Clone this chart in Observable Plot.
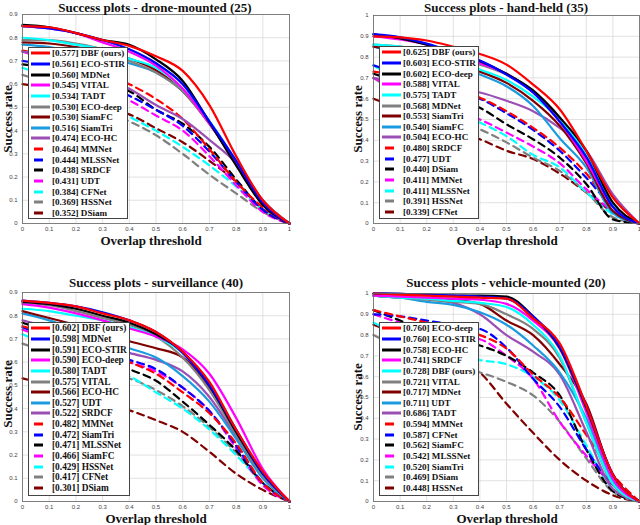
<!DOCTYPE html>
<html><head><meta charset="utf-8">
<script src="https://cdn.jsdelivr.net/npm/d3@7"></script>
<script src="https://cdn.jsdelivr.net/npm/@observablehq/plot@0.6"></script>
<style>
body{margin:0;background:#fff;}
#root{position:relative;width:640px;height:525px;overflow:hidden;font-family:"Liberation Serif","Times New Roman",serif;color:#111;}
.panel{position:absolute;}
.txt{position:absolute;white-space:nowrap;font-weight:bold;transform:translate(-50%,-50%);line-height:1;}
.ylab{transform:translate(-50%,-50%) rotate(-90deg);}
.legend{position:absolute;background:#fff;border:1px solid #444;box-sizing:border-box;padding-top:0.5px;overflow:hidden;}
.row{display:flex;align-items:center;height:10.65px;font-weight:bold;white-space:nowrap;}
.row svg{flex:none;}
.measure{position:absolute;visibility:hidden;white-space:nowrap;font-weight:bold;font-size:10px;}
</style></head><body><div id="root"></div>
<script>
// ---------- data ----------
const thresholds = [0, 0.1, 0.2, 0.3, 0.4, 0.5, 0.6, 0.7, 0.8, 0.9, 1];
const xTicks = [0, 0.1, 0.2, 0.3, 0.4, 0.5, 0.6, 0.7, 0.8, 0.9, 1];
const yTicks09 = [0, 0.1, 0.2, 0.3, 0.4, 0.5, 0.6, 0.7, 0.8, 0.9];
const yTicks10 = [0, 0.1, 0.2, 0.3, 0.4, 0.5, 0.6, 0.7, 0.8, 0.9, 1];
const xLabel = "Overlap threshold";
const yLabel = "Success rate";

const droneTitle = "Success plots - drone-mounted (25)";
const droneNames = ["DBF (ours)", "ECO-STIR", "MDNet", "VITAL", "TADT", "ECO-deep", "SiamFC", "SiamTri", "ECO-HC", "MMNet", "MLSSNet", "SRDCF", "UDT", "CFNet", "HSSNet", "DSiam"];
const droneScores = ["0.577", "0.561", "0.560", "0.545", "0.534", "0.530", "0.530", "0.516", "0.474", "0.464", "0.444", "0.438", "0.431", "0.384", "0.369", "0.352"];
const droneValues = [
  [0.85, 0.845, 0.82, 0.79, 0.765, 0.72, 0.657, 0.51, 0.29, 0.10, 0],
  [0.85, 0.84, 0.82, 0.79, 0.75, 0.69, 0.60, 0.44, 0.27, 0.09, 0],
  [0.855, 0.845, 0.82, 0.79, 0.77, 0.707, 0.614, 0.436, 0.25, 0.08, 0],
  [0.85, 0.84, 0.82, 0.78, 0.74, 0.68, 0.58, 0.43, 0.26, 0.08, 0],
  [0.80, 0.79, 0.77, 0.75, 0.71, 0.67, 0.58, 0.44, 0.26, 0.09, 0],
  [0.79, 0.79, 0.775, 0.75, 0.70, 0.65, 0.57, 0.43, 0.27, 0.10, 0],
  [0.78, 0.775, 0.76, 0.74, 0.71, 0.66, 0.57, 0.43, 0.26, 0.09, 0],
  [0.77, 0.76, 0.74, 0.72, 0.69, 0.65, 0.57, 0.44, 0.27, 0.09, 0],
  [0.74, 0.72, 0.68, 0.63, 0.58, 0.51, 0.45, 0.36, 0.26, 0.10, 0],
  [0.745, 0.72, 0.69, 0.65, 0.60, 0.536, 0.45, 0.32, 0.18, 0.07, 0],
  [0.70, 0.68, 0.65, 0.60, 0.55, 0.49, 0.42, 0.31, 0.18, 0.06, 0],
  [0.685, 0.67, 0.64, 0.60, 0.57, 0.49, 0.43, 0.33, 0.19, 0.06, 0],
  [0.74, 0.70, 0.64, 0.58, 0.53, 0.465, 0.40, 0.29, 0.165, 0.05, 0],
  [0.67, 0.63, 0.58, 0.52, 0.46, 0.40, 0.33, 0.25, 0.16, 0.06, 0],
  [0.64, 0.60, 0.55, 0.49, 0.44, 0.38, 0.30, 0.21, 0.13, 0.05, 0],
  [0.60, 0.58, 0.54, 0.50, 0.47, 0.41, 0.35, 0.27, 0.18, 0.06, 0]
];

const handTitle = "Success plots - hand-held (35)";
const handNames = ["DBF (ours)", "ECO-STIR", "ECO-deep", "VITAL", "TADT", "MDNet", "SiamTri", "SiamFC", "ECO-HC", "SRDCF", "UDT", "DSiam", "MMNet", "MLSSNet", "HSSNet", "CFNet"];
const handScores = ["0.625", "0.603", "0.602", "0.588", "0.575", "0.568", "0.553", "0.540", "0.504", "0.480", "0.477", "0.440", "0.411", "0.411", "0.391", "0.339"];
const handValues = [
  [0.90, 0.895, 0.88, 0.85, 0.815, 0.764, 0.668, 0.549, 0.349, 0.125, 0],
  [0.91, 0.895, 0.865, 0.825, 0.783, 0.716, 0.63, 0.49, 0.32, 0.08, 0],
  [0.91, 0.89, 0.86, 0.82, 0.78, 0.72, 0.64, 0.51, 0.35, 0.10, 0],
  [0.90, 0.885, 0.86, 0.82, 0.77, 0.72, 0.63, 0.49, 0.30, 0.08, 0],
  [0.86, 0.85, 0.83, 0.79, 0.74, 0.69, 0.61, 0.50, 0.33, 0.09, 0],
  [0.86, 0.85, 0.83, 0.80, 0.764, 0.716, 0.636, 0.51, 0.31, 0.08, 0],
  [0.85, 0.83, 0.80, 0.77, 0.73, 0.676, 0.59, 0.47, 0.29, 0.06, 0],
  [0.85, 0.82, 0.79, 0.76, 0.716, 0.66, 0.565, 0.41, 0.27, 0.05, 0],
  [0.70, 0.68, 0.67, 0.65, 0.63, 0.59, 0.54, 0.46, 0.35, 0.14, 0],
  [0.73, 0.71, 0.68, 0.645, 0.605, 0.54, 0.46, 0.365, 0.24, 0.08, 0],
  [0.76, 0.72, 0.68, 0.64, 0.60, 0.53, 0.45, 0.35, 0.22, 0.08, 0],
  [0.72, 0.68, 0.64, 0.60, 0.556, 0.477, 0.405, 0.317, 0.19, 0.02, 0],
  [0.70, 0.64, 0.59, 0.545, 0.50, 0.437, 0.37, 0.29, 0.165, 0.06, 0],
  [0.76, 0.68, 0.60, 0.54, 0.485, 0.42, 0.33, 0.27, 0.15, 0.045, 0],
  [0.70, 0.62, 0.56, 0.50, 0.453, 0.39, 0.317, 0.253, 0.15, 0.03, 0],
  [0.60, 0.55, 0.50, 0.45, 0.405, 0.35, 0.31, 0.24, 0.15, 0.055, 0]
];

const survTitle = "Success plots - surveillance (40)";
const survNames = ["DBF (ours)", "MDNet", "ECO-STIR", "ECO-deep", "TADT", "VITAL", "ECO-HC", "UDT", "SRDCF", "MMNet", "SiamTri", "MLSSNet", "SiamFC", "HSSNet", "CFNet", "DSiam"];
const survScores = ["0.602", "0.598", "0.591", "0.590", "0.580", "0.575", "0.566", "0.527", "0.522", "0.482", "0.472", "0.471", "0.466", "0.429", "0.417", "0.301"];
const survValues = [
  [0.865, 0.855, 0.84, 0.81, 0.78, 0.73, 0.645, 0.515, 0.31, 0.13, 0],
  [0.865, 0.855, 0.84, 0.815, 0.78, 0.73, 0.64, 0.50, 0.31, 0.12, 0],
  [0.86, 0.85, 0.83, 0.80, 0.77, 0.72, 0.645, 0.50, 0.30, 0.12, 0],
  [0.85, 0.835, 0.81, 0.78, 0.745, 0.71, 0.655, 0.55, 0.36, 0.14, 0],
  [0.83, 0.82, 0.80, 0.78, 0.75, 0.71, 0.64, 0.51, 0.31, 0.12, 0],
  [0.855, 0.845, 0.82, 0.79, 0.76, 0.71, 0.62, 0.48, 0.29, 0.11, 0],
  [0.82, 0.79, 0.76, 0.72, 0.69, 0.66, 0.62, 0.49, 0.30, 0.12, 0],
  [0.81, 0.78, 0.74, 0.70, 0.66, 0.62, 0.54, 0.43, 0.27, 0.10, 0],
  [0.78, 0.75, 0.72, 0.68, 0.64, 0.61, 0.56, 0.45, 0.28, 0.11, 0],
  [0.755, 0.72, 0.68, 0.64, 0.60, 0.55, 0.47, 0.38, 0.25, 0.08, 0],
  [0.75, 0.71, 0.68, 0.645, 0.61, 0.57, 0.49, 0.39, 0.24, 0.08, 0],
  [0.77, 0.73, 0.68, 0.62, 0.57, 0.52, 0.43, 0.33, 0.22, 0.08, 0],
  [0.74, 0.70, 0.67, 0.635, 0.60, 0.56, 0.49, 0.39, 0.23, 0.07, 0],
  [0.72, 0.67, 0.62, 0.58, 0.54, 0.47, 0.40, 0.31, 0.20, 0.08, 0],
  [0.68, 0.64, 0.60, 0.56, 0.53, 0.48, 0.41, 0.32, 0.21, 0.08, 0],
  [0.53, 0.50, 0.46, 0.43, 0.393, 0.35, 0.30, 0.214, 0.12, 0.05, 0]
];

const vehTitle = "Success plots - vehicle-mounted (20)";
const vehNames = ["ECO-deep", "ECO-STIR", "ECO-HC", "SRDCF", "DBF (ours)", "VITAL", "MDNet", "UDT", "TADT", "MMNet", "CFNet", "SiamFC", "MLSSNet", "SiamTri", "DSiam", "HSSNet"];
const vehScores = ["0.760", "0.760", "0.758", "0.741", "0.728", "0.721", "0.717", "0.711", "0.686", "0.594", "0.587", "0.562", "0.542", "0.520", "0.469", "0.448"];
const vehValues = [
  [1.0, 0.995, 0.99, 0.985, 0.98, 0.975, 0.88, 0.76, 0.46, 0.13, 0],
  [1.0, 0.998, 0.995, 0.99, 0.985, 0.975, 0.89, 0.745, 0.46, 0.13, 0],
  [1.0, 0.998, 0.995, 0.99, 0.99, 0.985, 0.89, 0.74, 0.45, 0.13, 0],
  [0.99, 0.985, 0.98, 0.975, 0.97, 0.95, 0.87, 0.735, 0.43, 0.11, 0],
  [0.99, 0.98, 0.975, 0.965, 0.955, 0.935, 0.85, 0.70, 0.38, 0.085, 0],
  [0.99, 0.98, 0.97, 0.96, 0.95, 0.90, 0.83, 0.69, 0.38, 0.08, 0],
  [0.99, 0.98, 0.975, 0.97, 0.95, 0.87, 0.80, 0.66, 0.47, 0.12, 0],
  [0.99, 0.98, 0.96, 0.945, 0.91, 0.85, 0.75, 0.62, 0.40, 0.095, 0],
  [0.99, 0.985, 0.975, 0.955, 0.90, 0.80, 0.72, 0.61, 0.335, 0.06, 0],
  [0.92, 0.89, 0.86, 0.83, 0.80, 0.735, 0.61, 0.50, 0.32, 0.13, 0],
  [0.90, 0.89, 0.87, 0.85, 0.83, 0.74, 0.59, 0.455, 0.25, 0.08, 0],
  [0.92, 0.87, 0.82, 0.78, 0.75, 0.70, 0.62, 0.51, 0.25, 0.05, 0],
  [0.90, 0.86, 0.83, 0.80, 0.78, 0.70, 0.59, 0.383, 0.22, 0.08, 0],
  [0.86, 0.80, 0.75, 0.71, 0.68, 0.66, 0.60, 0.487, 0.27, 0.06, 0],
  [0.80, 0.74, 0.69, 0.65, 0.62, 0.575, 0.51, 0.383, 0.207, 0.046, 0],
  [0.85, 0.80, 0.75, 0.69, 0.62, 0.47, 0.33, 0.20, 0.10, 0.03, 0]
];

// ---------- styles (by legend rank) ----------
const rankColors = ["#ff0000", "#0000ff", "#000000", "#ff00ff", "#00ffff", "#808080", "#800000", "#1a9be0", "#9b4fb5",
                    "#ff0000", "#0000ff", "#000000", "#ff00ff", "#00ffff", "#808080", "#800000"];
const solidCount = 9;

const panels = [
  {title: droneTitle, names: droneNames, scores: droneScores, values: droneValues, yTicks: yTicks09,
   left: 0, top: 0, w: 320, h: 260, m: [14, 31, 37, 22], titleXY: [155, 7], xlabXY: [151, 240], ylabXY: [7, 119], leg: [28, 46.5, 100, 172]},
  {title: handTitle, names: handNames, scores: handScores, values: handValues, yTicks: yTicks10,
   left: 320, top: 0, w: 320, h: 260, m: [15, 1, 37, 53], titleXY: [506, 7], xlabXY: [507, 240], ylabXY: [357, 119], leg: [379, 45.5, 100, 173]},
  {title: survTitle, names: survNames, scores: survScores, values: survValues, yTicks: yTicks09,
   left: 0, top: 260, w: 320, h: 265, m: [32, 31, 24, 22], titleXY: [156, 282], xlabXY: [156, 518], ylabXY: [7, 394], leg: [28, 321.5, 102, 174]},
  {title: vehTitle, names: vehNames, scores: vehScores, values: vehValues, yTicks: yTicks10,
   left: 320, top: 260, w: 320, h: 265, m: [33, 1, 24, 53], titleXY: [506, 282], xlabXY: [507, 518], ylabXY: [357, 397], leg: [379, 321.5, 100, 174]}
];

const root = document.getElementById("root");
const fmt = d3.format("~g");

function addText(str, xy, size, extraClass) {
  const d = document.createElement("div");
  d.className = "txt" + (extraClass ? " " + extraClass : "");
  d.style.left = xy[0] + "px";
  d.style.top = xy[1] + "px";
  d.style.fontSize = size + "px";
  d.textContent = str;
  root.appendChild(d);
}

// measure the widest legend label at 10px to fit the legend text width
const meas = document.createElement("span");
meas.className = "measure";
root.appendChild(meas);
function labelWidth(str) { meas.textContent = str; return meas.getBoundingClientRect().width; }

for (const p of panels) {
  const yMax = p.yTicks[p.yTicks.length - 1];
  const series = p.names.map((name, i) => ({
    name, rank: i,
    rows: thresholds.map((t, j) => ({t, v: p.values[i][j]}))
  }));
  const order = series.slice().sort((a, b) => {
    const da = a.rank >= solidCount ? 0 : 1, db = b.rank >= solidCount ? 0 : 1;
    if (da !== db) return da - db;
    return b.rank - a.rank;
  });
  const lineMarks = order.map(s => Plot.line(s.rows, {
    x: "t", y: "v", curve: "monotone-x",
    stroke: rankColors[s.rank],
    strokeWidth: 2.2,
    strokeDasharray: s.rank >= solidCount ? "7,5" : null
  }));
  const svg = Plot.plot({
    width: p.w, height: p.h,
    marginTop: p.m[0], marginRight: p.m[1], marginBottom: p.m[2], marginLeft: p.m[3],
    style: {background: "transparent", fontFamily: "Liberation Sans, Arial, sans-serif"},
    x: {domain: [0, 1], label: null},
    y: {domain: [0, yMax], label: null},
    marks: [
      Plot.gridX(xTicks, {stroke: "#d4d4d4", strokeOpacity: 1, strokeWidth: 0.7}),
      Plot.gridY(p.yTicks, {stroke: "#d4d4d4", strokeOpacity: 1, strokeWidth: 0.7}),
      ...lineMarks,
      Plot.frame({stroke: "#666", strokeWidth: 0.8}),
      Plot.axisX(xTicks, {tickSize: 0, tickPadding: 3, fontSize: 6, tickFormat: fmt, label: null, fill: "#444"}),
      Plot.axisY(p.yTicks, {tickSize: 0, tickPadding: 5, fontSize: 6, tickFormat: fmt, label: null, fill: "#444"})
    ]
  });
  svg.classList.add("panel");
  svg.style.left = p.left + "px";
  svg.style.top = p.top + "px";
  root.appendChild(svg);

  addText(p.title, p.titleXY, 13);
  addText(xLabel, p.xlabXY, 13);
  addText(yLabel, p.ylabXY, 13, "ylab");

  const labels = p.names.map((name, i) => "[" + p.scores[i] + "] " + name);
  const maxW = d3.max(labels, labelWidth);
  const target = p.leg[2] - 27;
  const fontSize = Math.min(10.5, 10 * target / maxW);

  const leg = document.createElement("div");
  leg.className = "legend";
  leg.style.left = p.leg[0] + "px";
  leg.style.top = p.leg[1] + "px";
  leg.style.width = p.leg[2] + "px";
  leg.style.height = p.leg[3] + "px";
  labels.forEach((label, i) => {
    const row = document.createElement("div");
    row.className = "row";
    row.style.fontSize = fontSize + "px";
    const dashed = i >= solidCount;
    const sw = d3.create("svg").attr("width", 23).attr("height", 10);
    sw.append("line")
      .attr("x1", dashed ? 5 : 2).attr("x2", dashed ? 14 : 21)
      .attr("y1", 5).attr("y2", 5)
      .attr("stroke", rankColors[i]).attr("stroke-width", 3);
    row.appendChild(sw.node());
    const tx = document.createElement("span");
    tx.textContent = label;
    row.appendChild(tx);
    leg.appendChild(row);
  });
  root.appendChild(leg);
}
</script>
</body></html>
